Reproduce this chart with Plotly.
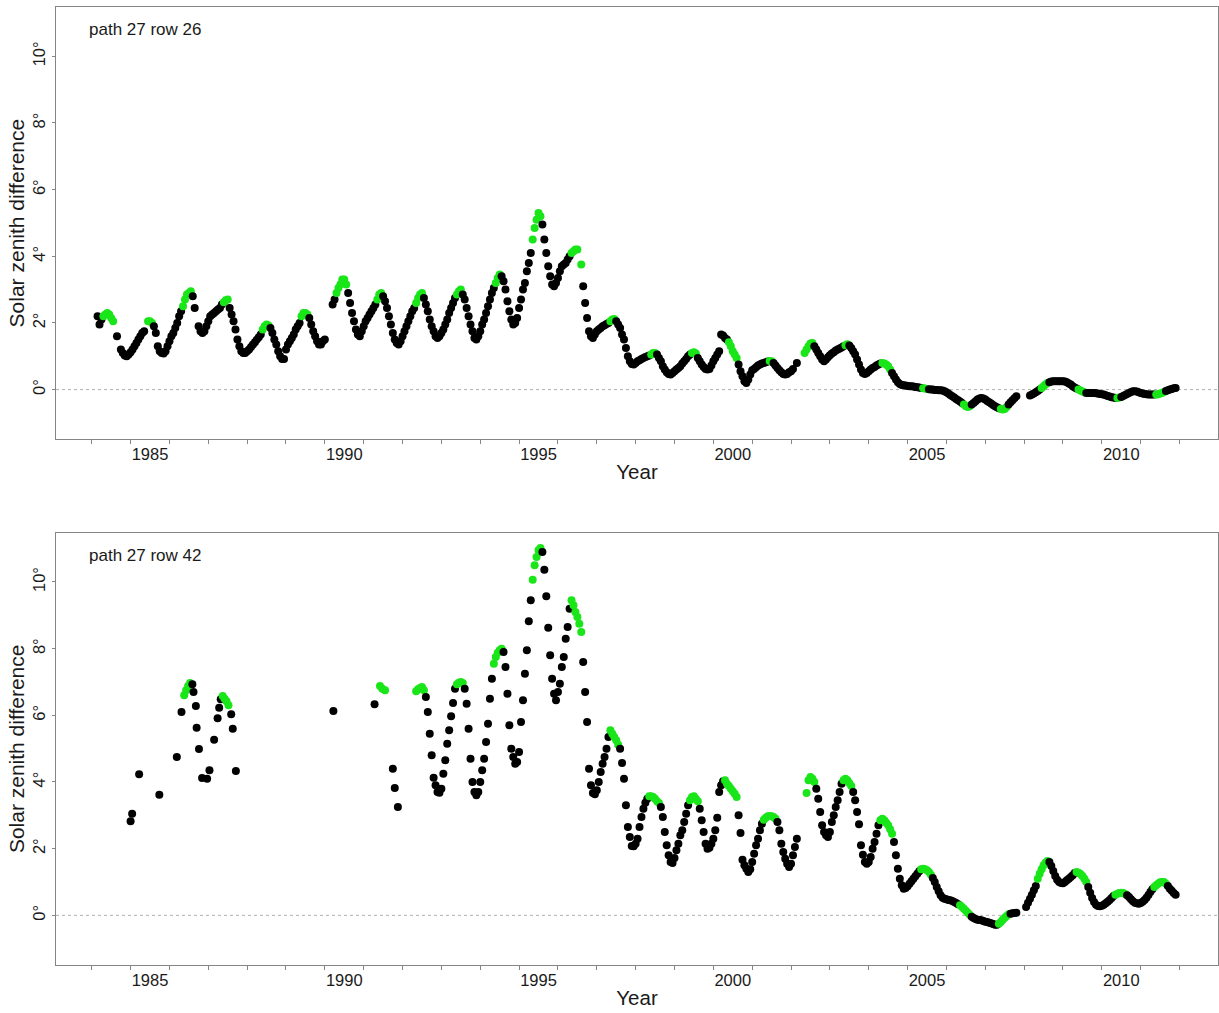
import plotly.graph_objects as go

# ---------------------------------------------------------------
# Data.
# Dense series: one row per calendar year, 20 readings per row taken
# every STEP years (year+0.00, year+0.05, ... year+0.95); None = no scene.
# ---------------------------------------------------------------
STEP = 0.05

top_first_year = 1984
top_values = [
    [None, None, None, 2.20, 1.95, 2.10, 2.20, 2.25, 2.30, 2.25, 2.15, 2.05, None, 1.60, None, 1.20, 1.10, 1.02, 1.00, 1.05],  # 1984
    [1.12, 1.20, 1.30, 1.40, 1.50, 1.60, 1.70, 1.75, None, 2.05, 2.05, 2.00, 1.90, 1.70, 1.30, 1.15, 1.10, 1.08, 1.15, 1.30],  # 1985
    [1.45, 1.60, 1.70, 1.85, 2.00, 2.20, 2.35, 2.50, 2.70, 2.85, 2.90, 2.95, 2.80, 2.45, None, 1.90, 1.75, 1.70, 1.75, 1.90],  # 1986
    [2.05, 2.20, 2.25, 2.30, 2.35, 2.40, 2.45, 2.55, 2.62, 2.68, 2.70, 2.45, 2.25, 2.05, 1.80, 1.50, 1.30, 1.15, 1.10, 1.10],  # 1987
    [1.15, 1.20, 1.28, 1.35, 1.42, 1.50, 1.57, 1.65, 1.80, 1.90, 1.95, 1.92, 1.85, 1.70, 1.50, 1.35, 1.15, 1.00, 0.92, 0.92],  # 1988
    [1.20, 1.35, 1.45, 1.55, 1.65, 1.80, 1.90, 2.00, 2.20, 2.30, 2.30, 2.25, 2.15, 1.95, 1.75, 1.60, 1.45, 1.35, 1.35, 1.45],  # 1989
    [1.50, None, None, None, 2.55, 2.70, 2.90, 3.05, 3.15, 3.30, 3.30, 3.15, 2.90, 2.60, 2.30, 2.05, 1.80, 1.65, 1.60, 1.75],  # 1990
    [1.90, 2.05, 2.15, 2.25, 2.35, 2.45, 2.55, 2.70, 2.85, 2.90, 2.80, 2.65, 2.45, 2.20, 1.95, 1.70, 1.50, 1.40, 1.35, 1.45],  # 1991
    [1.60, 1.75, 1.90, 2.05, 2.20, 2.35, 2.45, 2.60, 2.75, 2.85, 2.90, 2.75, 2.55, 2.35, 2.10, 1.90, 1.75, 1.60, 1.55, 1.60],  # 1992
    [1.70, 1.80, 1.95, 2.10, 2.30, 2.45, 2.60, 2.75, 2.85, 2.95, 3.00, 2.85, 2.70, 2.45, 2.20, 1.95, 1.75, 1.55, 1.50, 1.60],  # 1993
    [1.75, 1.95, 2.10, 2.30, 2.50, 2.70, 2.90, 3.05, 3.20, 3.35, 3.45, 3.40, 3.25, 3.00, 2.65, 2.35, 2.10, 1.95, 2.00, 2.15],  # 1994
    [2.45, 2.70, 3.00, 3.20, 3.55, 3.80, 4.10, 4.50, 4.85, 5.10, 5.30, 5.20, 4.95, 4.50, 4.10, 3.70, 3.40, 3.15, 3.10, 3.20],  # 1995
    [3.35, 3.55, 3.70, 3.75, 3.80, 3.90, 4.00, 4.10, 4.15, 4.20, 4.20, None, 3.75, 3.10, 2.60, 2.15, 1.75, 1.60, 1.55, 1.65],  # 1996
    [1.75, 1.80, 1.85, 1.90, 1.93, 1.97, 2.00, 2.05, 2.10, 2.12, 2.05, 1.95, 1.85, 1.65, 1.50, 1.25, 1.00, 0.85, 0.77, 0.75],  # 1997
    [0.80, 0.85, 0.88, 0.92, 0.95, 0.98, 1.00, 1.02, 1.05, 1.10, 1.10, 1.05, 0.95, 0.85, 0.70, 0.60, 0.52, 0.47, 0.45, 0.50],  # 1998
    [0.55, 0.60, 0.65, 0.70, 0.78, 0.85, 0.92, 1.00, 1.05, 1.10, 1.12, 1.08, 0.95, 0.85, 0.75, 0.68, 0.62, 0.60, 0.62, 0.72],  # 1999
    [0.85, 0.95, 1.05, 1.15, 1.65, 1.62, 1.55, 1.50, 1.42, 1.30, 1.15, 1.05, 0.95, 0.75, 0.55, 0.40, 0.25, 0.20, 0.30, 0.45],  # 2000
    [0.58, 0.62, 0.67, 0.72, 0.75, 0.78, 0.80, 0.82, 0.84, 0.86, 0.85, 0.80, 0.72, 0.65, 0.58, 0.52, 0.47, 0.45, 0.47, 0.52],  # 2001
    [0.55, 0.62, None, 0.80, None, None, None, 1.10, 1.20, 1.30, 1.38, 1.40, 1.30, 1.20, 1.10, 1.00, 0.90, 0.85, 0.90, 0.97],  # 2002
    [1.03, 1.08, 1.12, 1.17, 1.20, 1.23, 1.26, 1.30, 1.33, 1.36, 1.32, 1.25, 1.15, 1.05, 0.90, 0.75, 0.60, 0.50, 0.47, 0.50],  # 2003
    [0.55, 0.60, 0.65, 0.68, 0.72, 0.75, 0.78, 0.80, 0.78, 0.75, 0.70, 0.60, 0.50, 0.40, 0.30, 0.22, 0.17, 0.14, 0.13, 0.12],  # 2004
    [0.11, 0.10, 0.10, 0.09, 0.08, 0.07, 0.06, 0.05, 0.04, 0.03, 0.02, 0.01, 0.00, 0.00, -0.01, -0.01, -0.02, -0.02, -0.03, -0.05],  # 2005
    [-0.08, -0.12, -0.16, -0.20, -0.24, -0.28, -0.32, -0.36, -0.40, -0.45, -0.50, -0.52, -0.50, -0.45, -0.40, -0.35, -0.30, -0.27, -0.25, -0.27],  # 2006
    [-0.30, -0.34, -0.38, -0.42, -0.46, -0.50, -0.53, -0.56, -0.58, -0.60, -0.58, -0.52, -0.45, -0.38, -0.32, -0.26, -0.20, None, None, None],  # 2007
    [None, None, None, -0.18, -0.15, -0.12, -0.08, -0.04, 0.00, 0.05, 0.10, 0.15, 0.20, 0.22, 0.24, 0.25, 0.25, 0.25, 0.25, 0.25],  # 2008
    [0.25, 0.24, 0.22, 0.18, 0.15, 0.10, 0.06, 0.03, 0.00, -0.03, -0.06, -0.08, -0.10, -0.10, -0.10, -0.10, -0.10, -0.11, -0.12, -0.13],  # 2009
    [-0.14, -0.15, -0.17, -0.19, -0.21, -0.23, -0.24, -0.25, -0.25, -0.24, -0.22, -0.19, -0.16, -0.13, -0.10, -0.07, -0.05, -0.05, -0.06, -0.08],  # 2010
    [-0.10, -0.12, -0.13, -0.14, -0.15, -0.15, -0.15, -0.15, -0.15, -0.14, -0.12, -0.10, -0.07, -0.04, -0.02, 0.00, 0.02, 0.04, 0.05, None],  # 2011
]

# periods whose acquisitions are drawn green
top_green_periods = [
    (1984.28, 1984.57), (1985.42, 1985.57), (1986.33, 1986.57), (1987.38, 1987.52),
    (1988.38, 1988.57), (1989.38, 1989.57), (1990.28, 1990.57), (1991.33, 1991.47),
    (1992.33, 1992.52), (1993.38, 1993.52), (1994.38, 1994.52), (1995.33, 1995.57),
    (1996.33, 1996.62), (1997.33, 1997.47), (1998.38, 1998.52), (1999.43, 1999.57),
    (2000.38, 2000.62), (2001.43, 2001.52), (2002.33, 2002.57), (2003.38, 2003.47),
    (2004.33, 2004.57), (2005.38, 2005.52), (2006.43, 2006.62), (2007.38, 2007.57),
    (2008.43, 2008.62), (2009.38, 2009.57), (2010.38, 2010.47), (2011.38, 2011.62),
]

# bottom panel: sparse early scenes (explicit dates)
bottom_early_x = [1985.00, 1985.04, 1985.22, 1985.74, 1986.19, 1986.31, 1986.38, 1986.43, 1986.48, 1986.53,
                  1986.59, 1986.62, 1986.68, 1986.70, 1986.76, 1986.84, 1986.97, 1987.03, 1987.15, 1987.24,
                  1987.28, 1987.32, 1987.37, 1987.42, 1987.47, 1987.52, 1987.59, 1987.63, 1987.71, 1990.22,
                  1991.28, 1991.42, 1991.48, 1991.55, 1991.75, 1991.80, 1991.88]
bottom_early_y = [2.82, 3.05, 4.23, 3.62, 4.75, 6.10, 6.60, 6.75, 6.88, 6.97,
                  6.93, 6.70, 6.28, 5.63, 4.99, 4.12, 4.10, 4.35, 5.27, 5.91,
                  6.23, 6.48, 6.58, 6.50, 6.42, 6.30, 6.03, 5.60, 4.33, 6.13,
                  6.33, 6.88, 6.80, 6.75, 4.40, 3.82, 3.25]

bottom_first_year = 1992
bottom_values = [
    [None, None, None, None, None, None, None, 6.72, 6.78, 6.82, 6.85, 6.75, 6.55, 6.10, 5.45, 4.80, 4.13, 3.90, 3.70, 3.68],  # 1992
    [3.80, 4.25, 4.65, 5.15, 5.55, 5.97, 6.37, 6.80, 6.93, 6.98, 7.00, 6.97, 6.80, 6.35, 5.60, 4.70, 4.00, 3.70, 3.60, 3.70],  # 1993
    [4.00, 4.35, 4.70, 5.20, 5.75, 6.50, 7.10, 7.55, 7.75, 7.88, 7.95, 8.00, 7.90, 7.45, 6.65, 5.70, 5.00, 4.75, 4.55, 4.60],  # 1994
    [4.90, 5.80, 6.45, 7.25, 7.95, 8.82, 9.45, 10.07, 10.50, 10.75, 10.95, 11.02, 10.90, 10.37, 9.57, 8.63, 7.80, 7.10, 6.65, 6.45],  # 1995
    [6.70, 6.95, 7.45, 7.75, 8.30, 8.65, 9.20, 9.45, 9.30, 9.10, 8.95, 8.75, 8.50, 7.60, 6.70, 5.80, 4.40, 3.90, 3.67, 3.63],  # 1996
    [3.75, 4.00, 4.30, 4.55, 4.75, 5.00, 5.35, 5.55, 5.45, 5.35, 5.25, 5.12, 5.00, 4.57, 4.10, 3.30, 2.65, 2.35, 2.08, 2.07],  # 1997
    [2.15, 2.30, 2.65, 2.95, 3.20, 3.38, 3.50, 3.57, 3.57, 3.55, 3.50, 3.42, 3.37, 3.25, 2.95, 2.50, 2.10, 1.80, 1.60, 1.57],  # 1998
    [1.72, 1.95, 2.15, 2.40, 2.55, 2.80, 3.05, 3.30, 3.45, 3.55, 3.57, 3.50, 3.42, 3.20, 2.85, 2.50, 2.15, 2.00, 2.03, 2.15],  # 1999
    [2.30, 2.55, 2.93, 3.70, 3.90, 4.02, 4.05, 3.95, 3.88, 3.80, 3.72, 3.65, 3.55, 3.00, 2.47, 1.67, 1.50, 1.40, 1.30, 1.38],  # 2000
    [1.60, 1.85, 2.10, 2.30, 2.55, 2.75, 2.87, 2.93, 2.97, 2.98, 2.97, 2.95, 2.90, 2.80, 2.55, 2.15, 1.90, 1.70, 1.55, 1.45],  # 2001
    [1.55, 1.80, 2.05, 2.30, None, None, None, None, 3.67, 4.05, 4.15, 4.10, 4.00, 3.80, 3.50, 3.10, 2.70, 2.50, 2.40, 2.35],  # 2002
    [2.50, 2.80, 3.00, 3.25, 3.45, 3.70, 3.95, 4.05, 4.10, 4.05, 3.97, 3.88, 3.70, 3.45, 3.10, 2.73, 2.10, 1.82, 1.60, 1.55],  # 2003
    [1.60, 1.75, 2.00, 2.20, 2.45, 2.70, 2.85, 2.90, 2.85, 2.78, 2.70, 2.58, 2.45, 2.20, 1.80, 1.40, 1.10, 0.90, 0.80, 0.82],  # 2004
    [0.87, 0.95, 1.02, 1.10, 1.17, 1.25, 1.32, 1.38, 1.40, 1.38, 1.35, 1.30, 1.22, 1.12, 1.00, 0.85, 0.72, 0.60, 0.53, 0.50],  # 2005
    [0.48, 0.46, 0.45, 0.43, 0.40, 0.37, 0.33, 0.30, 0.25, 0.20, 0.14, 0.08, 0.02, -0.04, -0.08, -0.11, -0.13, -0.14, -0.15, -0.17],  # 2006
    [-0.19, -0.20, -0.22, -0.24, -0.26, -0.28, -0.28, -0.25, -0.20, -0.13, -0.07, -0.02, 0.03, 0.05, 0.06, 0.07, 0.08, None, None, None],  # 2007
    [None, 0.25, 0.38, 0.50, 0.62, 0.75, 0.88, 1.10, 1.25, 1.38, 1.50, 1.58, 1.63, 1.60, 1.48, 1.33, 1.18, 1.07, 1.00, 0.97],  # 2008
    [0.96, 1.00, 1.05, 1.10, 1.15, 1.20, 1.27, 1.30, 1.28, 1.24, 1.18, 1.10, 1.00, 0.85, 0.68, 0.52, 0.40, 0.32, 0.28, 0.27],  # 2009
    [0.29, 0.32, 0.36, 0.41, 0.46, 0.52, 0.58, 0.62, 0.65, 0.67, 0.68, 0.67, 0.64, 0.60, 0.55, 0.48, 0.42, 0.38, 0.36, 0.35],  # 2010
    [0.37, 0.41, 0.46, 0.53, 0.61, 0.70, 0.78, 0.85, 0.90, 0.95, 0.99, 1.00, 1.00, 0.95, 0.88, 0.80, 0.74, 0.67, 0.62, None],  # 2011
]

bottom_green_periods = [
    (1986.35, 1986.56), (1987.35, 1987.55), (1991.40, 1991.57), (1992.33, 1992.57),
    (1993.38, 1993.57), (1994.33, 1994.57), (1995.33, 1995.57), (1996.33, 1996.62),
    (1997.33, 1997.57), (1998.33, 1998.62), (1999.38, 1999.62), (2000.28, 2000.62),
    (2001.28, 2001.62), (2002.38, 2002.62), (2003.33, 2003.57), (2004.28, 2004.62),
    (2005.33, 2005.62), (2006.33, 2006.62), (2007.33, 2007.62), (2008.33, 2008.62),
    (2009.33, 2009.62), (2010.33, 2010.62), (2011.33, 2011.67),
]

panel_labels = ["path 27 row 26", "path 27 row 42"]
year_labels = ["1985", "1990", "1995", "2000", "2005", "2010"]
y_tick_values = [0, 2, 4, 6, 8, 10]
y_tick_labels = ["0°", "2°", "4°", "6°", "8°", "10°"]

# ---------------------------------------------------------------
for rows in (top_values, bottom_values):
    for r in rows:
        assert len(r) == 20, (len(r), r)


def expand(first_year, rows):
    xs, ys = [], []
    for i, row in enumerate(rows):
        for j, v in enumerate(row):
            if v is None:
                continue
            xs.append(round(first_year + i + j * STEP, 3))
            ys.append(v)
    return xs, ys


GREEN = "#19e619"
BLACK = "#000000"


def colours(xs, periods):
    return [GREEN if any(a <= x <= b for a, b in periods) else BLACK for x in xs]


top_x, top_y = expand(top_first_year, top_values)
bx, by = expand(bottom_first_year, bottom_values)
bottom_x = bottom_early_x + bx
bottom_y = bottom_early_y + by

FONT = "Arial, 'Liberation Sans', sans-serif"
AXIS_GREY = "#858585"
TEXT = "#1a1a1a"

fig = go.Figure()
fig.add_trace(go.Scatter(x=top_x, y=top_y, mode="markers", xaxis="x", yaxis="y",
                         marker=dict(size=8, color=colours(top_x, top_green_periods), line=dict(width=0)),
                         showlegend=False, hoverinfo="x+y"))
fig.add_trace(go.Scatter(x=bottom_x, y=bottom_y, mode="markers", xaxis="x2", yaxis="y2",
                         marker=dict(size=8, color=colours(bottom_x, bottom_green_periods), line=dict(width=0)),
                         showlegend=False, hoverinfo="x+y"))

X_RANGE = [1983.08, 2012.99]
Y_RANGE = [-1.49, 11.48]


def xaxis(anchor):
    return dict(
        anchor=anchor, domain=[0, 1], range=X_RANGE,
        tickmode="array", tickvals=[int(t) + 0.5 for t in year_labels], ticktext=year_labels,
        ticks="", showgrid=False, zeroline=False,
        showline=True, linecolor=AXIS_GREY, linewidth=1, mirror=True,
        tickfont=dict(family=FONT, size=16.5, color=TEXT),
        minor=dict(tickmode="array", tickvals=list(range(1984, 2013)), ticks="outside",
                   ticklen=4, tickwidth=1, tickcolor=AXIS_GREY, showgrid=False),
        title=dict(text="Year", font=dict(family=FONT, size=20.5, color=TEXT), standoff=2),
    )


def yaxis(anchor, domain):
    return dict(
        anchor=anchor, domain=domain, range=Y_RANGE,
        tickmode="array", tickvals=y_tick_values, ticktext=y_tick_labels, tickangle=-90,
        ticks="outside", ticklen=3, tickwidth=1, tickcolor=AXIS_GREY,
        showgrid=False, zeroline=False,
        showline=True, linecolor=AXIS_GREY, linewidth=1, mirror=True,
        tickfont=dict(family=FONT, size=16.5, color=TEXT),
        title=dict(text="Solar zenith difference", font=dict(family=FONT, size=21, color=TEXT), standoff=0),
    )


fig.update_layout(
    width=1219, height=1013,
    margin=dict(l=56, r=1, t=7, b=48, autoexpand=False),
    paper_bgcolor="white", plot_bgcolor="white",
    xaxis=xaxis("y"), yaxis=yaxis("x", [0.5488, 1.0]),
    xaxis2=xaxis("y2"), yaxis2=yaxis("x2", [0.0, 0.4513]),
    font=dict(family=FONT, color=TEXT),
    showlegend=False,
)

for xr, yr, label in (("x domain", "y domain", panel_labels[0]), ("x2 domain", "y2 domain", panel_labels[1])):
    fig.add_shape(type="line", xref=xr, yref=yr.split()[0], x0=0, x1=1, y0=0, y1=0,
                  line=dict(color="#b0b0b0", width=1, dash="dot"), layer="below")
    fig.add_annotation(xref=xr, yref=yr, x=0.0267, y=0.947, xanchor="left", yanchor="middle",
                       text=label, showarrow=False, font=dict(family=FONT, size=17, color=TEXT))

fig.write_html("out.html")
